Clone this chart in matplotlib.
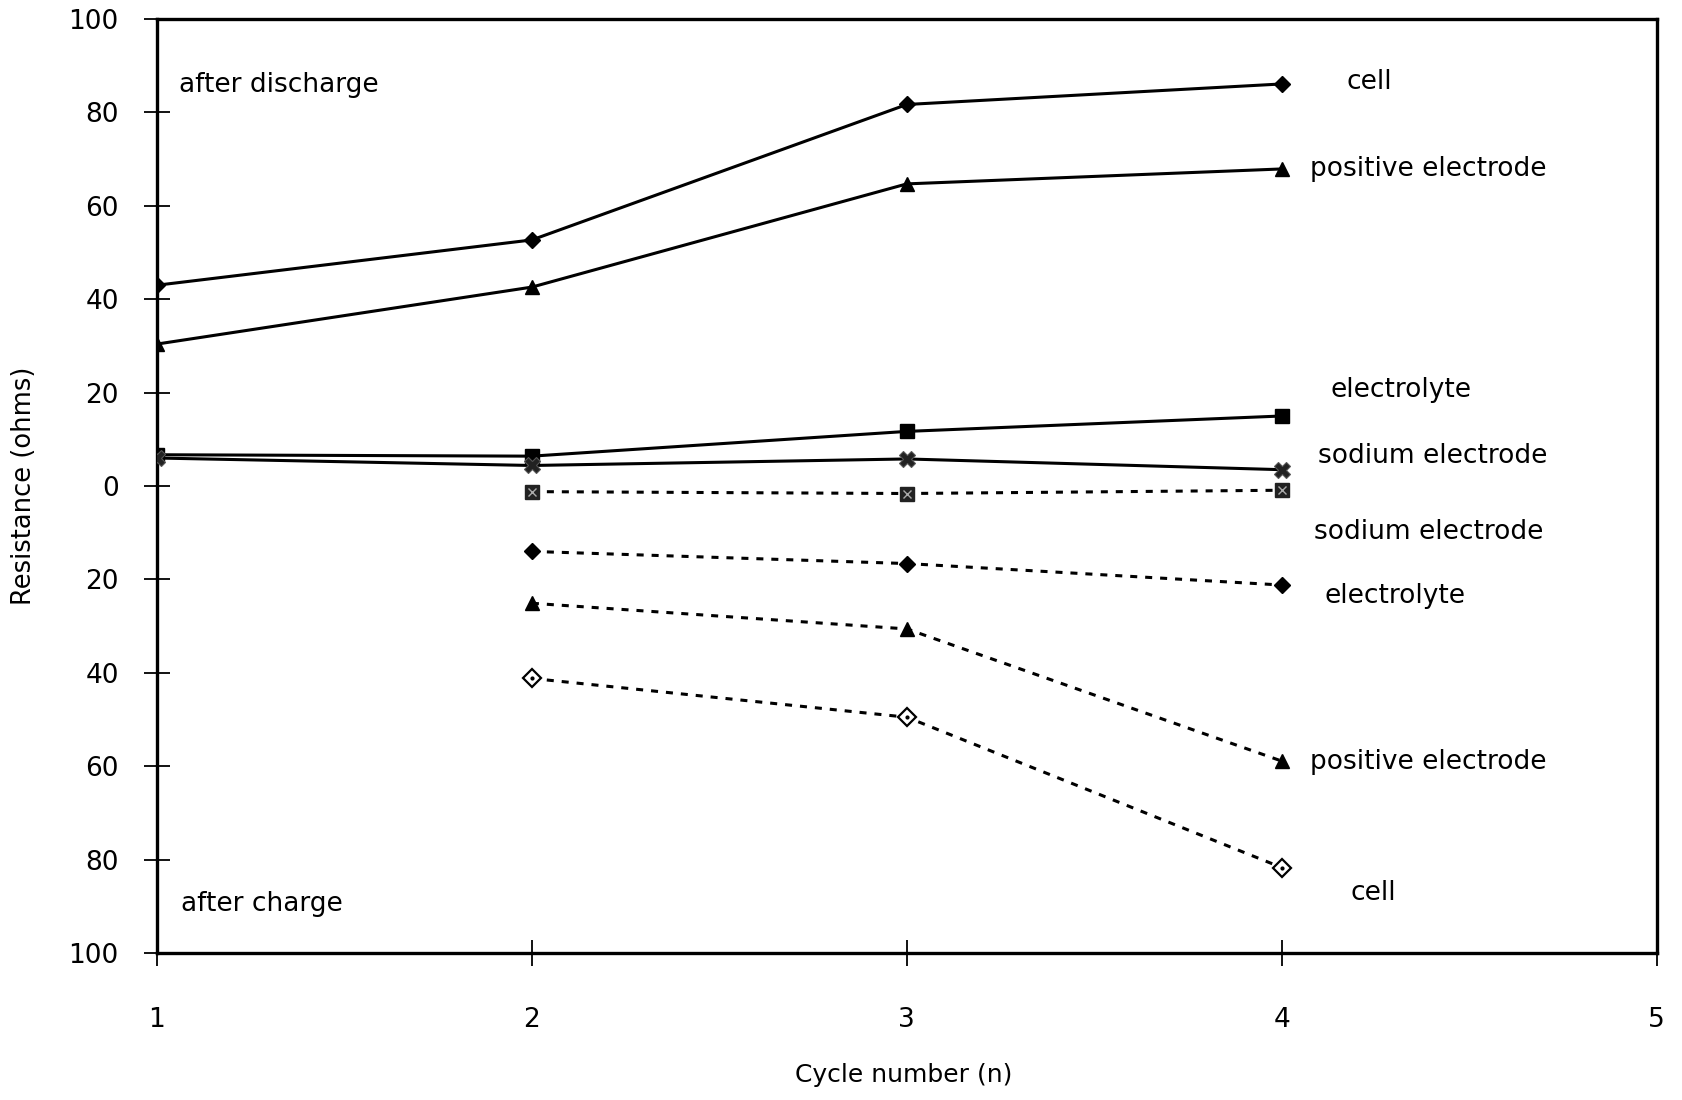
import matplotlib
matplotlib.use("Agg")
import matplotlib.pyplot as plt
from matplotlib.ticker import FuncFormatter

plt.rcParams['font.family'] = ['DejaVu Sans']

# ---- data ----
cycles_discharge = [1, 2, 3, 4]
cycles_charge = [2, 3, 4]

# after discharge (positive values)
cell_dis = [43.0, 52.7, 81.7, 86.1]
pos_dis = [30.4, 42.6, 64.7, 67.9]
elec_dis = [6.7, 6.4, 11.7, 15.0]
sod_dis = [6.0, 4.4, 5.8, 3.5]

# after charge (plotted downward, i.e. negative)
sod_chg = [-1.2, -1.6, -0.9]
elec_chg = [-14.0, -16.6, -21.2]
pos_chg = [-25.1, -30.6, -58.9]
cell_chg = [-41.2, -49.5, -81.7]

x_ticks = [1, 2, 3, 4, 5]
y_ticks = [-100, -80, -60, -40, -20, 0, 20, 40, 60, 80, 100]

series_labels = ["cell", "positive electrode", "electrolyte", "sodium electrode",
                 "sodium electrode", "electrolyte", "positive electrode", "cell"]
section_labels = ["after discharge", "after charge"]

# ---- figure ----
fig = plt.figure(figsize=(16.82, 11.0), dpi=100)
ax = fig.add_axes([0.0933, 0.1336, 0.8917, 0.8491])

lw = 2.2
dots = (0, (2.3, 2.6))

# discharge (solid)
ax.plot(cycles_discharge, cell_dis, color='black', lw=lw, marker='D', ms=8.5, zorder=3)
ax.plot(cycles_discharge, pos_dis, color='black', lw=lw, marker='^', ms=10.5, zorder=3)
ax.plot(cycles_discharge, elec_dis, color='black', lw=lw, marker='s', ms=10.5, zorder=3)
ax.plot(cycles_discharge, sod_dis, color='black', lw=lw, marker='X', ms=11,
        mfc='#222222', mec='#555555', mew=0.8, zorder=3)

# charge (dotted)
ax.plot(cycles_charge, sod_chg, color='black', lw=lw, ls=dots, marker='s', ms=10.5,
        mfc='#222222', mec='#222222', zorder=3)
ax.plot(cycles_charge, sod_chg, ls='none', marker='x', ms=6, mec='#aaaaaa', mew=1.0, zorder=4)
ax.plot(cycles_charge, elec_chg, color='black', lw=lw, ls=dots, marker='D', ms=8.5, zorder=3)
ax.plot(cycles_charge, pos_chg, color='black', lw=lw, ls=dots, marker='^', ms=10.5, zorder=3)
ax.plot(cycles_charge, cell_chg, color='black', lw=lw, ls=dots, marker='D', ms=9,
        mfc='white', mec='black', mew=1.6, zorder=3)
ax.plot(cycles_charge, cell_chg, ls='none', marker='.', ms=4, color='black', zorder=4)

# ---- axes styling ----
ax.set_xlim(1, 5)
ax.set_ylim(-100, 100)
ax.set_xticks(x_ticks)
ax.set_yticks(y_ticks)
ax.yaxis.set_major_formatter(FuncFormatter(lambda v, p: f"{abs(v):.0f}"))
for s in ax.spines.values():
    s.set_linewidth(2.4)
ax.tick_params(axis='both', direction='inout', length=19, width=1.3, labelsize=19)
ax.tick_params(axis='y', pad=18)
ax.tick_params(axis='x', pad=29)

fig.text(0.014, 0.558, "Resistance (ohms)", rotation=90, ha='center', va='center', fontsize=18.5)
fig.text(0.537, 0.0227, "Cycle number (n)", ha='center', va='center', fontsize=18)

# series labels
label_pos = [(4.233, 86.5), (4.39, 67.9), (4.319, 20.5), (4.402, 6.4),
             (4.393, -9.9), (4.302, -23.5), (4.39, -59.1), (4.245, -87.2)]
for txt, (xx, yy) in zip(series_labels, label_pos):
    ax.text(xx, yy, txt, ha='center', va='center', fontsize=19)

ax.text(1.326, 85.8, section_labels[0], ha='center', va='center', fontsize=19)
ax.text(1.28, -89.5, section_labels[1], ha='center', va='center', fontsize=19)

fig.savefig("out.png", dpi=100)
